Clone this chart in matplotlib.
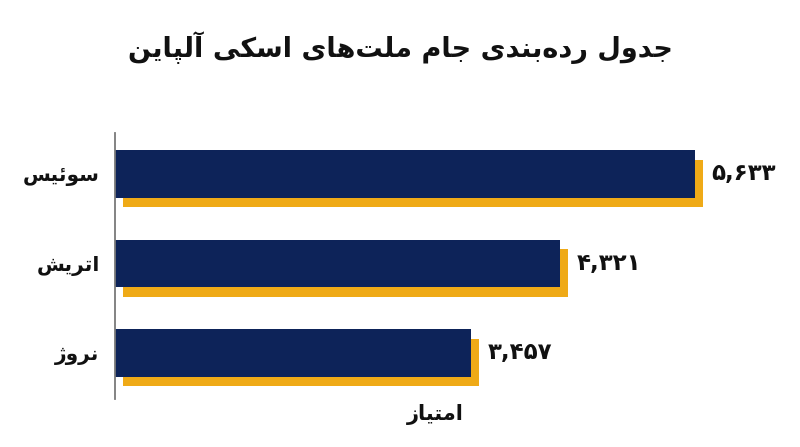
import matplotlib
matplotlib.use("Agg")
import matplotlib.pyplot as plt
from matplotlib.transforms import ScaledTranslation

# ---------------- data ----------------
countries = ["سوئیس", "اتریش", "نروژ"]
points = [5633, 4321, 3457]
title_text = "جدول رده‌بندی جام ملت‌های اسکی آلپاین"
xlabel_text = "امتیاز"

# ---------------- minimal Arabic/Persian shaping ----------------
FORMS = {  # isolated, final, initial, medial
    "\u0627": ("\uFE8D", "\uFE8E", None, None),
    "\u0622": ("\uFE81", "\uFE82", None, None),
    "\u0628": ("\uFE8F", "\uFE90", "\uFE91", "\uFE92"),
    "\u067E": ("\uFB56", "\uFB57", "\uFB58", "\uFB59"),
    "\u062A": ("\uFE95", "\uFE96", "\uFE97", "\uFE98"),
    "\u062C": ("\uFE9D", "\uFE9E", "\uFE9F", "\uFEA0"),
    "\u062F": ("\uFEA9", "\uFEAA", None, None),
    "\u0631": ("\uFEAD", "\uFEAE", None, None),
    "\u0632": ("\uFEAF", "\uFEB0", None, None),
    "\u0698": ("\uFB8A", "\uFB8B", None, None),
    "\u0633": ("\uFEB1", "\uFEB2", "\uFEB3", "\uFEB4"),
    "\u0634": ("\uFEB5", "\uFEB6", "\uFEB7", "\uFEB8"),
    "\u06A9": ("\uFB8E", "\uFB8F", "\uFB90", "\uFB91"),
    "\u0644": ("\uFEDD", "\uFEDE", "\uFEDF", "\uFEE0"),
    "\u0645": ("\uFEE1", "\uFEE2", "\uFEE3", "\uFEE4"),
    "\u0646": ("\uFEE5", "\uFEE6", "\uFEE7", "\uFEE8"),
    "\u0647": ("\uFEE9", "\uFEEA", "\uFEEB", "\uFEEC"),
    "\u0648": ("\uFEED", "\uFEEE", None, None),
    "\u06CC": ("\uFBFC", "\uFBFD", "\uFBFE", "\uFBFF"),
    "\u0626": ("\uFE89", "\uFE8A", "\uFE8B", "\uFE8C"),
}


def shape(text):
    out = []
    n = len(text)
    for i, ch in enumerate(text):
        if ch == "\u200c":
            continue
        if ch not in FORMS:
            out.append(ch)
            continue
        iso, fin, ini, med = FORMS[ch]
        prev = text[i - 1] if i > 0 else ""
        nxt = text[i + 1] if i + 1 < n else ""
        jp = prev in FORMS and FORMS[prev][2] is not None
        jn = ini is not None and nxt in FORMS
        if jp and jn:
            out.append(med)
        elif jp:
            out.append(fin)
        elif jn:
            out.append(ini)
        else:
            out.append(iso)
    return "".join(reversed(out))


FA_DIGITS = str.maketrans("0123456789", "۰۱۲۳۴۵۶۷۸۹")


def fa_num(v):
    return f"{v:,}".translate(FA_DIGITS)


# ---------------- style ----------------
NAVY = "#0d2359"
GOLD = "#efaa17"
FONT = "DejaVu Sans"

fig = plt.figure(figsize=(8.0, 4.47), dpi=100)
ax = fig.add_axes([115 / 800, 48 / 447, 670 / 800, 266 / 447])

y = list(range(len(countries)))
shadow = ScaledTranslation(8 / 100, -9.5 / 100, fig.dpi_scale_trans)
ax.barh(y, points, height=0.53, color=GOLD, zorder=1,
        transform=ax.transData + shadow)
bars = ax.barh(y, points, height=0.53, color=NAVY, zorder=2)

for b, v in zip(bars, points):
    ax.annotate(fa_num(v), xy=(b.get_width(), b.get_y() + b.get_height() / 2),
                xytext=(12, 0), textcoords="offset points", ha="left",
                va="center", fontsize=16.5, fontweight="bold", family=FONT,
                color="#111111", zorder=3)

ax.set_xlim(0, 6512)
ax.set_ylim(2.514, -0.458)
ax.set_yticks(y)
ax.set_yticklabels([shape(c) for c in countries], fontsize=14.5,
                   fontweight="bold", family=FONT, color="#111111")
ax.tick_params(axis="y", length=0, pad=11)
ax.set_xticks([])
for s in ("top", "right", "bottom"):
    ax.spines[s].set_visible(False)
ax.spines["left"].set_color("#7a7a7a")
ax.spines["left"].set_linewidth(1.3)

ax.set_xlabel(shape(xlabel_text), fontsize=15, fontweight="bold",
              family=FONT, color="#111111")
ax.xaxis.set_label_coords(0.478, -0.06)
ax.xaxis.label.set_va("center")

fig.text(0.5, 1 - 48 / 447, shape(title_text), ha="center", va="center",
         fontsize=19.5, fontweight="bold", family=FONT, color="#111111")

fig.savefig("out.png", dpi=100)
